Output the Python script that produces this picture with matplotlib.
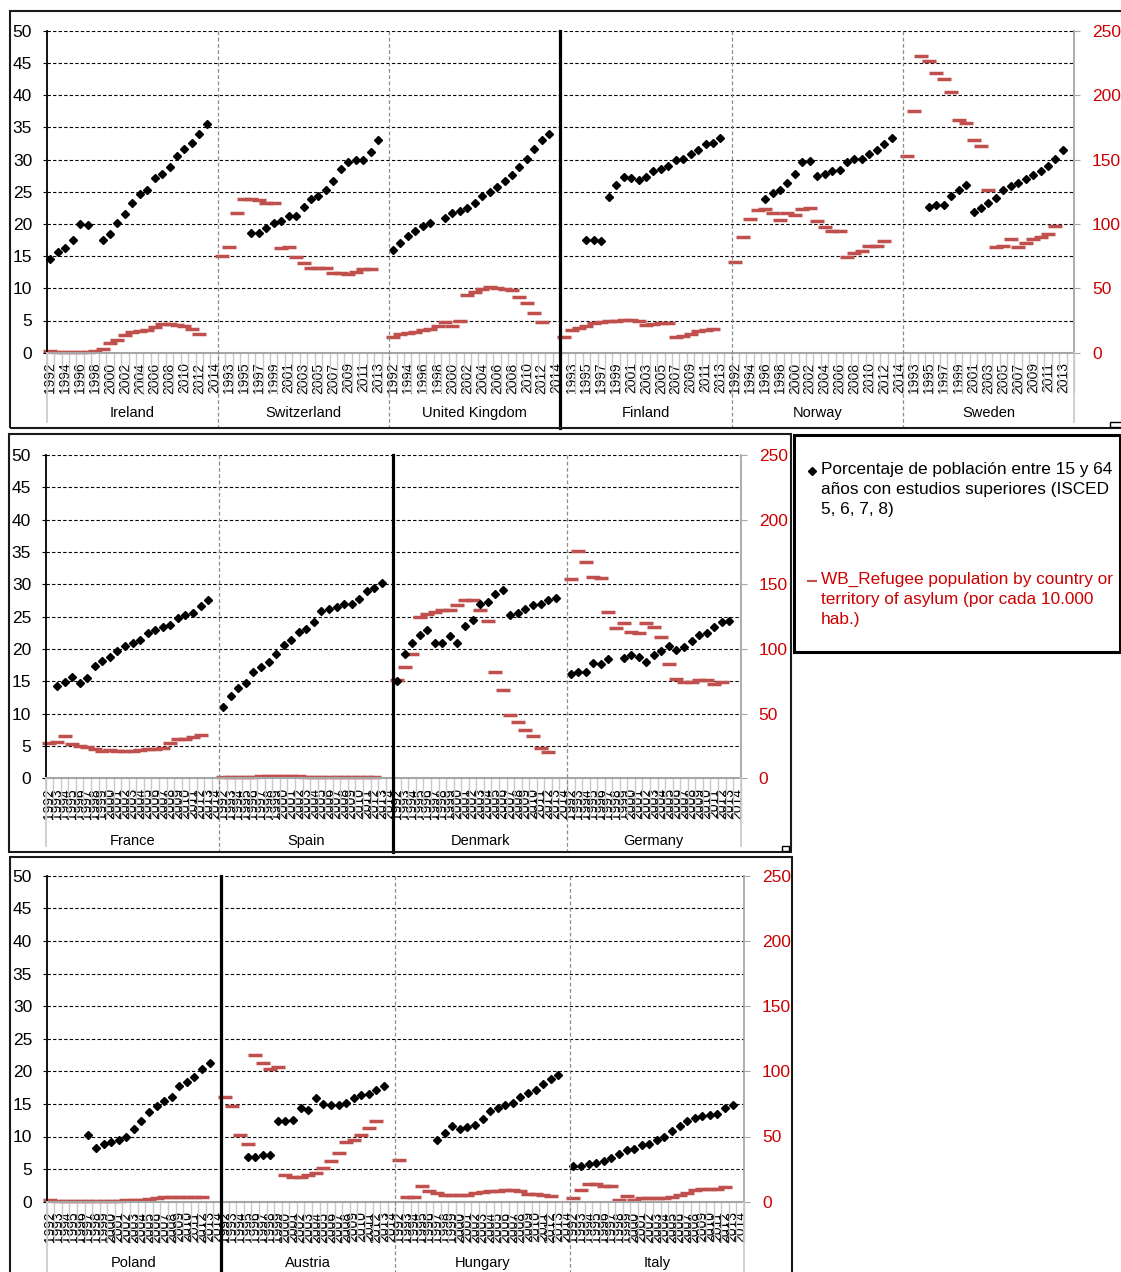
import numpy as np
import matplotlib
matplotlib.use('Agg')
import matplotlib.pyplot as plt
from matplotlib.lines import Line2D
from matplotlib.patches import Rectangle
from matplotlib.ticker import MultipleLocator
import matplotlib.transforms as mtransforms

plt.rcParams['font.family'] = ['Liberation Sans', 'DejaVu Sans']

nan = np.nan
years = list(range(1992, 2015))

# ---- Panel 1 ----
ireland_edu = [14.6, 15.6, 16.2, 17.5, 20.0, 19.8, nan, 17.5, 18.4, 20.2, 21.5, 23.2, 24.6, 25.3, 27.1, 27.8, 28.8, 30.5, 31.7, 32.5, 34.0, 35.5, nan]
ireland_ref = [1.6, 0.6, 0.8, 0.8, 0.6, 0.8, 1.3, 3.1, 7.2, 9.8, 13.5, 15.8, 16.8, 17.6, 19.7, 22.3, 22.3, 21.2, 20.7, 18.1, 14.5, nan, nan]
switzerland_edu = [nan, nan, nan, nan, 18.6, 18.6, 19.4, 20.2, 20.5, 21.3, 21.3, 22.7, 23.8, 24.3, 25.3, 26.7, 28.6, 29.6, 29.9, 29.9, 31.1, 33.0, nan]
switzerland_ref = [75.3, 82.3, 108.2, 119.0, 119.6, 118.5, 116.0, 116.0, 81.0, 81.8, 74.5, 69.4, 65.5, 65.5, 65.5, 61.6, 61.6, 60.8, 62.9, 64.7, 64.7, nan, nan]
uk_edu = [15.9, 17.1, 18.1, 18.9, 19.6, 20.2, nan, 20.9, 21.7, 22.0, 22.4, 23.2, 24.4, 24.9, 25.7, 26.7, 27.6, 28.8, 30.1, 31.7, 33.0, 34.0, nan]
uk_ref = [11.9, 14.5, 15.0, 16.0, 17.3, 18.1, 21.0, 24.0, 21.0, 25.0, 44.5, 46.8, 49.7, 50.7, 50.2, 49.2, 48.4, 43.0, 38.3, 30.5, 24.1, nan, nan]
finland_edu = [nan, nan, nan, 17.5, 17.5, 17.3, 24.2, 26.1, 27.3, 27.1, 26.8, 27.3, 28.2, 28.6, 29.0, 29.9, 30.1, 30.9, 31.5, 32.4, 32.6, 33.4, nan]
finland_ref = [11.9, 17.3, 19.4, 20.7, 22.8, 24.1, 24.6, 24.8, 25.4, 25.4, 24.3, 21.5, 22.3, 23.3, 23.3, 11.9, 13.2, 14.5, 16.6, 17.6, 18.1, nan, nan]
norway_edu = [nan, nan, nan, nan, 23.8, 24.8, 25.3, 26.3, 27.8, 29.6, 29.8, 27.4, 27.8, 28.2, 28.4, 29.6, 30.1, 30.1, 30.9, 31.5, 32.4, 33.4, nan]
norway_ref = [70.1, 89.5, 103.5, 110.5, 111.3, 108.2, 102.7, 108.2, 106.6, 111.3, 112.1, 102.0, 97.3, 94.2, 94.2, 74.0, 77.1, 78.7, 83.1, 83.1, 86.4, nan, nan]
sweden_edu = [nan, nan, nan, 22.7, 22.9, 23.0, 24.4, 25.2, 26.1, 21.9, 22.4, 23.2, 24.0, 25.2, 25.9, 26.3, 26.9, 27.6, 28.2, 29.0, 30.1, 31.5, nan]
sweden_ref = [152.4, 187.4, 230.1, 226.2, 216.9, 212.2, 202.1, 180.4, 178.1, 164.9, 160.2, 126.0, 82.3, 83.1, 88.0, 82.3, 84.9, 88.0, 89.5, 91.9, 98.1, nan, nan]

# ---- Panel 2 ----
france_edu = [nan, 14.3, 14.9, 15.7, 14.7, 15.5, 17.4, 18.2, 18.7, 19.7, 20.4, 21.0, 21.4, 22.4, 22.9, 23.4, 23.7, 24.8, 25.3, 25.6, 26.6, 27.6, nan]
france_ref = [27.1, 27.8, 32.5, 26.3, 24.7, 24.0, 22.8, 21.0, 22.0, 20.9, 20.9, 20.9, 22.2, 22.4, 22.9, 23.7, 27.1, 30.7, 30.7, 32.2, 33.2, nan, nan]
spain_edu = [11.1, 12.8, 13.9, 14.7, 16.4, 17.2, 18.0, 19.3, 20.6, 21.4, 22.7, 23.1, 24.1, 25.8, 26.2, 26.5, 27.0, 27.0, 27.8, 28.9, 29.4, 30.2, nan]
spain_ref = [1.3, 1.3, 1.3, 1.3, 1.3, 1.5, 1.6, 2.0, 2.0, 1.8, 1.4, 1.3, 1.3, 1.3, 1.3, 1.3, 1.3, 1.3, 1.3, 1.3, 1.3, nan, nan]
denmark_edu = [15.1, 19.3, 21.0, 22.2, 22.9, 20.9, 21.0, 22.0, 21.0, 23.5, 24.5, 27.0, 27.3, 28.5, 29.1, 25.2, 25.6, 26.2, 26.8, 27.0, 27.5, 27.9, nan]
denmark_ref = [76.0, 85.8, 95.9, 124.5, 127.0, 128.9, 130.2, 129.9, 133.8, 137.6, 137.6, 129.9, 121.4, 82.0, 68.0, 48.7, 43.3, 37.1, 32.5, 23.7, 20.6, nan, nan]
germany_edu = [16.1, 16.5, 16.5, 17.8, 17.6, 18.4, nan, 18.6, 19.0, 18.8, 18.0, 19.1, 19.7, 20.5, 19.9, 20.3, 21.2, 22.2, 22.4, 23.4, 24.1, 24.3, nan]
germany_ref = [153.9, 175.5, 167.0, 155.4, 154.6, 128.4, 116.0, 119.8, 113.1, 112.4, 119.8, 116.8, 109.3, 88.4, 76.8, 74.5, 74.5, 75.8, 75.8, 73.0, 74.6, nan, nan]

# ---- Panel 3 ----
poland_edu = [nan, nan, nan, nan, nan, 10.3, 8.2, 8.8, 9.2, 9.4, 10.0, 11.2, 12.4, 13.7, 14.7, 15.4, 16.1, 17.7, 18.4, 19.2, 20.3, 21.3, nan]
poland_ref = [1.3, 0.3, 0.3, 0.3, 0.3, 0.3, 0.3, 0.3, 0.3, 0.3, 1.0, 1.0, 1.0, 2.0, 2.8, 3.6, 3.8, 3.8, 3.8, 3.8, 3.8, nan, nan]
austria_edu = [nan, nan, nan, 6.9, 6.9, 7.1, 7.1, 12.4, 12.4, 12.6, 14.3, 14.1, 15.9, 15.0, 14.8, 14.8, 15.2, 15.9, 16.3, 16.5, 17.1, 17.7, nan]
austria_ref = [80.5, 73.1, 51.4, 44.0, 112.2, 106.1, 101.7, 103.5, 20.2, 18.7, 18.7, 20.4, 22.2, 25.6, 31.4, 37.1, 45.5, 47.0, 51.4, 56.2, 61.6, nan, nan]
hungary_edu = [nan, nan, nan, nan, nan, 9.5, 10.5, 11.6, 11.2, 11.5, 11.8, 12.7, 13.9, 14.3, 14.8, 15.2, 16.1, 16.7, 17.1, 18.0, 18.8, 19.4, nan]
hungary_ref = [31.7, 3.3, 3.3, 11.8, 8.2, 6.4, 4.9, 5.1, 5.1, 5.4, 6.4, 7.7, 8.2, 8.4, 8.7, 8.7, 8.2, 6.1, 6.1, 5.1, 4.1, nan, nan]
italy_edu = [5.4, 5.4, 5.8, 6.0, 6.3, 6.7, 7.3, 7.9, 8.1, 8.7, 8.9, 9.4, 10.0, 10.9, 11.6, 12.4, 12.9, 13.1, 13.3, 13.5, 14.3, 14.9, nan]
italy_ref = [2.6, 8.9, 13.5, 13.5, 12.0, 12.0, 1.0, 4.3, 1.3, 2.6, 2.6, 2.6, 3.1, 3.8, 4.9, 6.9, 8.7, 9.7, 9.7, 9.7, 11.5, nan, nan]

panel1_countries = ['Ireland', 'Switzerland', 'United Kingdom', 'Finland', 'Norway', 'Sweden']
panel1_edu = [ireland_edu, switzerland_edu, uk_edu, finland_edu, norway_edu, sweden_edu]
panel1_ref = [ireland_ref, switzerland_ref, uk_ref, finland_ref, norway_ref, sweden_ref]
panel2_countries = ['France', 'Spain', 'Denmark', 'Germany']
panel2_edu = [france_edu, spain_edu, denmark_edu, germany_edu]
panel2_ref = [france_ref, spain_ref, denmark_ref, germany_ref]
panel3_countries = ['Poland', 'Austria', 'Hungary', 'Italy']
panel3_edu = [poland_edu, austria_edu, hungary_edu, italy_edu]
panel3_ref = [poland_ref, austria_ref, hungary_ref, italy_ref]

legend_edu = 'Porcentaje de población entre 15 y 64\naños con estudios superiores (ISCED\n5, 6, 7, 8)'
legend_ref = 'WB_Refugee population by country or\nterritory of asylum (por cada 10.000\nhab.)'

W, H = 1121, 1272
fig = plt.figure(figsize=(W / 100, H / 100), dpi=100)

RED = '#C0504D'
TICKRED = '#CC0000'
GREY = '#A6A6A6'
LIGHT = '#C8C8C8'


def fy(y):
    return 1 - y / H


def px_rect(l, t, r, b):
    return [l / W, 1 - b / H, (r - l) / W, (b - t) / H]


def panel(countries, edu, ref, rect, frame, label_step, black_sep, name_y):
    l, t, r, b = rect
    nyr = len(years)
    n = len(countries) * nyr
    ax = fig.add_axes(px_rect(l, t, r, b))
    ax2 = ax.twinx()
    ax.set_zorder(2)
    ax2.set_zorder(1)
    ax.patch.set_visible(False)

    # right axis: refugees
    ax2.set_ylim(0, 250)
    ax2.yaxis.set_major_locator(MultipleLocator(50))
    ax2.yaxis.set_minor_locator(MultipleLocator(25))
    ax2.grid(True, which='both', axis='y', color='black', linestyle=(0, (3, 2)), linewidth=0.8)
    ax2.tick_params(axis='y', which='major', length=4.5, color=GREY, labelcolor=TICKRED,
                    labelsize=12.5, pad=8.5)
    ax2.tick_params(axis='y', which='minor', length=0)
    for sp in ['left', 'top', 'bottom']:
        ax2.spines[sp].set_visible(False)
    ax2.spines['right'].set_color(GREY)
    ax2.spines['right'].set_linewidth(1.3)

    # left axis: education
    ax.set_ylim(0, 50)
    ax.yaxis.set_major_locator(MultipleLocator(5))
    ax.tick_params(axis='y', length=3, color='black', labelsize=12.5, pad=7.5)
    ax.spines['top'].set_visible(False)
    ax.spines['right'].set_visible(False)
    ax.spines['left'].set_color('black')
    ax.spines['left'].set_linewidth(1.3)
    ax.spines['bottom'].set_color(GREY)
    ax.spines['bottom'].set_linewidth(1.5)

    ax.set_xlim(-0.5, n - 0.5)
    labels = []
    for ci in range(len(countries)):
        for yi, yr in enumerate(years):
            idx = ci * nyr + yi
            labels.append(str(yr) if idx % label_step == 0 else '')
    ax.set_xticks(np.arange(n))
    ax.set_xticklabels(labels, rotation=90, fontsize=10)
    ax.set_xticks(np.arange(-0.5, n, 1), minor=True)
    ax.tick_params(axis='x', which='major', length=0, pad=7)
    ax.tick_params(axis='x', which='minor', length=29, color=LIGHT, width=1)

    for ci, c in enumerate(countries):
        x = ci * nyr + np.arange(nyr)
        ax2.plot(x, ref[ci], linestyle='none', marker='_', markersize=10.5,
                 markeredgewidth=2.5, color=RED, clip_on=False)
        ax.plot(x, edu[ci], linestyle='none', marker='D', markersize=3.8,
                color='black', clip_on=False)

    trans = mtransforms.blended_transform_factory(ax.transData, fig.transFigure)
    fl, ft, fr, fb = frame
    # country separators
    for ci in range(1, len(countries)):
        xb = ci * nyr - 0.5
        if ci == black_sep:
            ln = Line2D([xb, xb], [fy(t), fy(fb)], transform=trans, color='black', lw=2.3, zorder=6)
        else:
            ln = Line2D([xb, xb], [fy(t), fy(fb)], transform=trans, color='#8C8C8C', lw=0.9,
                        linestyle=(0, (3, 2)), zorder=6)
        fig.add_artist(ln)
    for xb in [-0.5, n - 0.5]:
        fig.add_artist(Line2D([xb, xb], [fy(b), fy(fb - 6)], transform=trans, color=LIGHT,
                              lw=1.2, zorder=6))
    # country names
    for ci, c in enumerate(countries):
        ax.text(ci * nyr + (nyr - 1) / 2, fy(name_y), c, transform=trans, ha='center',
                va='center', fontsize=10.5)
    fig.add_artist(Rectangle((fl / W, fy(fb)), (fr - fl) / W, (fb - ft) / H,
                             transform=fig.transFigure, fill=False, ec='#1A1A1A', lw=1.5, zorder=7))
    return ax, ax2


panel(panel1_countries, panel1_edu, panel1_ref, (46.7, 30.7, 1074, 352.7),
      (9.5, 10.5, 1130, 428), 2, 3, 413)
panel(panel2_countries, panel2_edu, panel2_ref, (45.7, 455, 740.7, 778.3),
      (9, 434, 791, 852), 1, 2, 841)
panel(panel3_countries, panel3_edu, panel3_ref, (46.7, 875.7, 744, 1201.7),
      (9.5, 857, 792, 1290), 1, 1, 1263)

# small handles
fig.add_artist(Rectangle((1110 / W, fy(427)), 12 / W, 5 / H, transform=fig.transFigure,
                         fill=True, fc='white', ec='black', lw=1, zorder=8))
fig.add_artist(Rectangle((782 / W, fy(851)), 7 / W, 5 / H, transform=fig.transFigure,
                         fill=True, fc='white', ec='black', lw=1, zorder=8))

# legend box
fig.add_artist(Rectangle((794 / W, fy(652)), (1120 - 794) / W, (652 - 435) / H,
                         transform=fig.transFigure, fill=False, ec='black', lw=2.2, zorder=7))
fig.add_artist(Line2D([812 / W], [fy(471)], transform=fig.transFigure, marker='D',
                      markersize=3.8, color='black', linestyle='none'))
fig.text(821 / W, fy(462), legend_edu, ha='left', va='top', fontsize=12.4,
         linespacing=1.42, color='black')
fig.add_artist(Line2D([812 / W], [fy(581)], transform=fig.transFigure, marker='_',
                      markersize=7, markeredgewidth=1.5, color=RED, linestyle='none'))
fig.text(821 / W, fy(572), legend_ref, ha='left', va='top', fontsize=12.4,
         linespacing=1.42, color=TICKRED)

fig.savefig('out.png', dpi=100)
